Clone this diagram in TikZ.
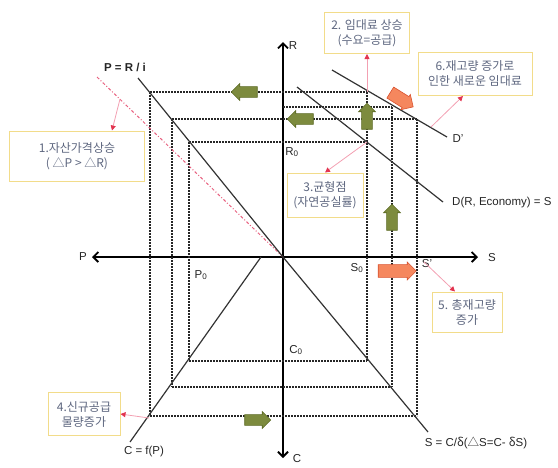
\documentclass[tikz,border=0pt]{standalone}
\usepackage{fontspec}
\setmainfont{Liberation Sans}
\newfontfamily\cjk{Noto Sans CJK KR}
\usetikzlibrary{arrows.meta,shapes.arrows,positioning}

\definecolor{boxline}{HTML}{F2DC8A}
\definecolor{boxtext}{HTML}{5E6780}
\definecolor{pinkline}{HTML}{F3A0B2}
\definecolor{pinktip}{HTML}{E2344F}
\definecolor{pinkdash}{HTML}{E8607F}
\definecolor{gfill}{HTML}{7D8B3E}
\definecolor{gline}{HTML}{5C6A24}
\definecolor{ofill}{HTML}{F5875E}
\definecolor{oline}{HTML}{D9522F}

\tikzset{
  note/.style={draw=boxline, line width=1pt, fill=white, text=boxtext,
    font=\cjk\fontsize{12}{15}\selectfont, align=center, inner sep=2pt},
  guide/.style={line width=1.2pt, dash pattern=on 1.8pt off 1.2pt, black!85},
  curve/.style={line width=1.2pt, black!80},
  axis/.style={line width=1.8pt, {Straight Barb[length=5pt,width=10pt]}-{Straight Barb[length=5pt,width=10pt]}},
  callout/.style={pinkline, line width=0.8pt, -{Triangle[length=5pt,width=5pt,color=pinktip,fill=pinktip]}},
  garrow/.style={single arrow, draw=gline, fill=gfill, line width=0.6pt,
    minimum height=26pt, minimum width=17pt, single arrow head extend=3pt,
    inner xsep=0pt, inner ysep=5pt},
  oarrow/.style={single arrow, draw=oline, fill=ofill, line width=0.6pt,
    minimum height=38pt, minimum width=18pt, single arrow head extend=2.5pt,
    inner xsep=0pt, inner ysep=6pt},
  lbl/.style={font=\fontsize{11.5}{13}\selectfont, text=black!85, inner sep=1pt}
}

\begin{document}
\begin{tikzpicture}[x=1pt,y=-1pt]
\useasboundingbox (0,0) rectangle (558,467);

% axes
\coordinate (O) at (283,257);
\coordinate (pend) at (92,257);
\coordinate (send) at (478,257);
\coordinate (rend) at (283,42);
\coordinate (cend) at (283,458);
\draw[axis] (pend) -- (send);
\draw[axis] (cend) -- (rend);

% dashed guides
\draw[guide] (150,92) -- (368,92);
\draw[guide] (283,107) -- (392,107);
\draw[guide] (172,119) -- (417,119);
\draw[guide] (189,142) -- (367,142);
\draw[guide] (189,361) -- (367,361);
\draw[guide] (172,387) -- (392,387);
\draw[guide] (150,416) -- (417,416);
\draw[guide] (150,92) -- (150,416);
\draw[guide] (172,119) -- (172,387);
\draw[guide] (189,142) -- (189,361);
\draw[guide] (367,92) -- (367,361);
\draw[guide] (392,107) -- (392,387);
\draw[guide] (417,119) -- (417,416);

% the four curves
\draw[pinkdash, line width=1pt, dash dot] (97,77) -- (O);
\draw[curve] (138,78) -- (O);
\draw[curve] (297,87) -- (443,202);
\draw[curve] (332,70) -- (447,137);
\draw[curve] (O) -- (428,432);
\draw[curve] (261,257) -- (130,442);

% axis and curve labels
\node[lbl] (plab) at (83,257) {P};
\node[lbl] (slab) at (492,258) {S};
\node[lbl] (rlab) at (293,46) {R};
\node[lbl] (clab) at (297,459) {C};
\node[lbl, font=\bfseries\fontsize{11.5}{13}\selectfont] (prilab) at (125,67) {P = R / i};
\node[lbl] (dlab) at (458,139) {D'};
\node[lbl, anchor=west] (ddlab) at (451,203) {D(R, Economy) = S};
\node[lbl] (cflab) at (144,452) {C = f(P)};
\node[lbl] (sclab) at (476,443) {S = C/{\cjk δ}({\cjk △}S=C- {\cjk δ}S)};
\node[lbl] (r0) at (292,152) {R\textsubscript{0}};
\node[lbl] (p0) at (201,275) {P\textsubscript{0}};
\node[lbl] (s0) at (357,268) {S\textsubscript{0}};
\node[lbl] (s1) at (427,264) {S'};
\node[lbl] (c0) at (296,350) {C\textsubscript{0}};

% block arrows
\node[garrow, rotate=180] (g1) at (247,92) {};
\node[garrow, rotate=180] (g2) at (303,119) {};
\node[garrow, rotate=90] (g3) at (367,119) {};
\node[garrow, rotate=90] (g4) at (392,220) {};
\node[garrow] (g5) at (255,420) {};
\node[oarrow] (o1) at (394,271) {};
\node[oarrow, minimum height=27pt, rotate=-32] (o2) at (399,98) {};

% notes
\node[note, minimum width=135pt, minimum height=50pt] (n1) at (77,156) {1.자산가격상승\\( △P > △R)};
\node[note, minimum width=85pt, minimum height=41pt] (n2) at (367,33) {2. 임대료 상승\\(수요=공급)};
\node[note, minimum width=76pt, minimum height=44pt] (n3) at (325,195) {3.균형점\\(자연공실률)};
\node[note, minimum width=72pt, minimum height=43pt] (n4) at (84,414) {4.신규공급\\물량증가};
\node[note, minimum width=70pt, minimum height=40pt] (n5) at (467,312) {5. 총재고량\\증가};
\node[note, minimum width=114pt, minimum height=43pt] (n6) at (475,74) {6.재고량 증가로\\인한 새로운 임대료};

% callouts
\coordinate (k1) at (120,99);
\coordinate (k2) at (367,92);
\coordinate (k3) at (367,142);
\coordinate (k4) at (149,418);
\coordinate (k5) at (424,262);
\coordinate (k6) at (431,127);
\draw[callout] (k1) -- (n1.north -| 112,0);
\draw[callout] (k2) -- (n2.south);
\draw[callout] (k3) -- (n3.north);
\draw[callout] (k4) -- (n4.east);
\draw[callout] (k5) -- (n5.north -| 455,0);
\draw[callout] (k6) -- (n6.south -| 463,0);
\end{tikzpicture}
\end{document}
